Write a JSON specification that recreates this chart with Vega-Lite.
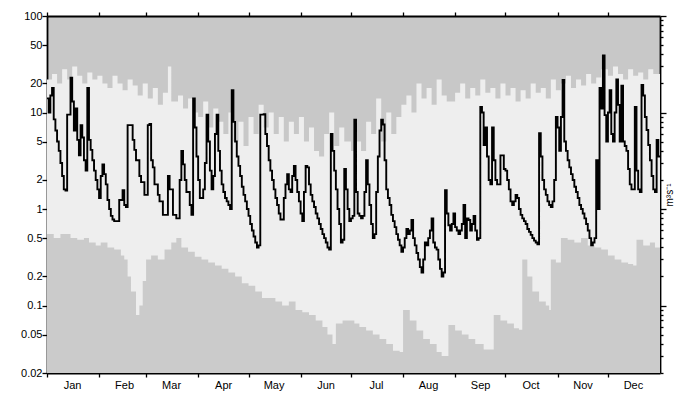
{
"$schema": "https://vega.github.io/schema/vega-lite/v6.json",
"width": 613, "height": 357,
"autosize": "none",
"padding": {"left": 47, "top": 16, "right": 28, "bottom": 21},
"background": "white",
"config": {
  "view": {"fill": "#c8c8c8", "stroke": null},
  "axis": {"labelFont": "Liberation Sans", "labelFontSize": 11, "labelColor": "black", "titleFont": "Liberation Sans", "titleColor": "black", "domainColor": "black", "domainWidth": 1.8, "tickColor": "black", "tickWidth": 1.3, "grid": false}
},
"datasets": {
"flow": [
{"day":0,"q":14},{"day":1,"q":10},{"day":2,"q":15},{"day":3,"q":18},{"day":4,"q":8.5},{"day":5,"q":6.5},{"day":6,"q":5},{"day":7,"q":4},{"day":8,"q":3},{"day":9,"q":2.2},{"day":10,"q":1.6},{"day":11,"q":1.55},{"day":12,"q":9.5},{"day":14,"q":23},{"day":15,"q":13},{"day":16,"q":6.5},{"day":17,"q":11},{"day":18,"q":5.2},{"day":19,"q":3.6},{"day":20,"q":7.4},{"day":21,"q":5.5},{"day":22,"q":3.2},{"day":23,"q":2.5},{"day":24,"q":18},{"day":25,"q":5.2},{"day":26,"q":4.1},{"day":27,"q":3.2},{"day":28,"q":2.5},{"day":29,"q":2.0},{"day":30,"q":1.6},{"day":31,"q":1.3},{"day":32,"q":2.2},{"day":33,"q":2.9},{"day":34,"q":2.3},{"day":35,"q":1.8},{"day":36,"q":1.24},{"day":37,"q":1.0},{"day":38,"q":0.85},{"day":39,"q":0.78},{"day":40,"q":0.75},{"day":42,"q":0.75},{"day":43,"q":1.24},{"day":45,"q":1.57},{"day":46,"q":1.1},{"day":47,"q":1.05},{"day":48,"q":7.4},{"day":50,"q":7.4},{"day":51,"q":5.2},{"day":52,"q":4.1},{"day":53,"q":3.2},{"day":55,"q":2.2},{"day":56,"q":1.9},{"day":58,"q":1.4},{"day":60,"q":7.4},{"day":61,"q":7.6},{"day":62,"q":3.2},{"day":63,"q":2.7},{"day":64,"q":1.8},{"day":66,"q":1.4},{"day":67,"q":1.2},{"day":69,"q":0.87},{"day":71,"q":0.87},{"day":72,"q":2.2},{"day":73,"q":1.6},{"day":75,"q":0.87},{"day":77,"q":0.8},{"day":79,"q":2.0},{"day":80,"q":4.0},{"day":81,"q":2.9},{"day":82,"q":2.0},{"day":83,"q":1.5},{"day":85,"q":1.1},{"day":86,"q":0.87},{"day":87,"q":14},{"day":88,"q":7},{"day":89,"q":3.5},{"day":90,"q":2.0},{"day":91,"q":1.3},{"day":93,"q":1.6},{"day":94,"q":3.0},{"day":95,"q":9.5},{"day":96,"q":5},{"day":97,"q":2.5},{"day":98,"q":1.6},{"day":99,"q":2.2},{"day":100,"q":6},{"day":101,"q":9.5},{"day":102,"q":4},{"day":103,"q":2.5},{"day":104,"q":1.8},{"day":105,"q":1.5},{"day":106,"q":1.3},{"day":107,"q":1.2},{"day":108,"q":1.1},{"day":109,"q":1.0},{"day":110,"q":17},{"day":111,"q":8},{"day":112,"q":5},{"day":113,"q":3.5},{"day":114,"q":2.8},{"day":115,"q":2.2},{"day":116,"q":1.7},{"day":117,"q":1.4},{"day":118,"q":1.2},{"day":119,"q":1.0},{"day":120,"q":0.85},{"day":121,"q":0.7},{"day":122,"q":0.6},{"day":123,"q":0.52},{"day":124,"q":0.45},{"day":125,"q":0.4},{"day":126,"q":0.42},{"day":127,"q":9.5},{"day":129,"q":9.6},{"day":130,"q":6},{"day":131,"q":4.5},{"day":132,"q":3.2},{"day":133,"q":2.5},{"day":134,"q":2.0},{"day":135,"q":1.6},{"day":136,"q":1.3},{"day":137,"q":1.1},{"day":138,"q":0.9},{"day":139,"q":0.78},{"day":140,"q":0.78},{"day":141,"q":1.3},{"day":142,"q":1.8},{"day":143,"q":2.3},{"day":144,"q":1.6},{"day":145,"q":1.5},{"day":146,"q":2.2},{"day":147,"q":2.8},{"day":148,"q":2.0},{"day":149,"q":1.5},{"day":150,"q":1.2},{"day":151,"q":0.9},{"day":152,"q":0.75},{"day":153,"q":1.5},{"day":154,"q":2.8},{"day":155,"q":2.7},{"day":156,"q":1.8},{"day":157,"q":1.4},{"day":158,"q":1.2},{"day":159,"q":1.05},{"day":160,"q":0.9},{"day":161,"q":0.8},{"day":162,"q":0.7},{"day":163,"q":0.62},{"day":164,"q":0.55},{"day":165,"q":0.5},{"day":166,"q":0.45},{"day":167,"q":0.4},{"day":168,"q":0.38},{"day":169,"q":6},{"day":170,"q":4},{"day":171,"q":2.5},{"day":172,"q":1.6},{"day":173,"q":1.0},{"day":174,"q":0.7},{"day":175,"q":0.45},{"day":176,"q":0.48},{"day":177,"q":2.6},{"day":178,"q":1.6},{"day":179,"q":1.0},{"day":180,"q":0.75},{"day":181,"q":0.8},{"day":182,"q":0.85},{"day":183,"q":8.4},{"day":184,"q":1.5},{"day":185,"q":0.9},{"day":186,"q":0.85},{"day":187,"q":0.8},{"day":188,"q":0.85},{"day":189,"q":1.5},{"day":190,"q":3.2},{"day":191,"q":1.8},{"day":192,"q":1.1},{"day":193,"q":0.7},{"day":194,"q":0.5},{"day":195,"q":0.55},{"day":196,"q":1.5},{"day":197,"q":3.5},{"day":198,"q":6.5},{"day":199,"q":8.4},{"day":200,"q":7.5},{"day":201,"q":3.2},{"day":202,"q":1.6},{"day":203,"q":1.3},{"day":204,"q":1.1},{"day":205,"q":0.87},{"day":206,"q":0.75},{"day":207,"q":0.65},{"day":208,"q":0.55},{"day":209,"q":0.48},{"day":210,"q":0.42},{"day":211,"q":0.36},{"day":212,"q":0.4},{"day":213,"q":0.5},{"day":214,"q":0.62},{"day":215,"q":0.55},{"day":216,"q":0.6},{"day":217,"q":0.77},{"day":218,"q":0.5},{"day":219,"q":0.42},{"day":220,"q":0.35},{"day":221,"q":0.3},{"day":222,"q":0.25},{"day":223,"q":0.22},{"day":224,"q":0.3},{"day":225,"q":0.45},{"day":226,"q":0.42},{"day":227,"q":0.5},{"day":228,"q":0.6},{"day":229,"q":0.8},{"day":230,"q":0.45},{"day":231,"q":0.4},{"day":232,"q":0.38},{"day":233,"q":0.3},{"day":234,"q":0.24},{"day":235,"q":0.2},{"day":236,"q":0.22},{"day":237,"q":1.57},{"day":238,"q":0.9},{"day":239,"q":0.68},{"day":240,"q":0.6},{"day":241,"q":0.7},{"day":242,"q":0.9},{"day":243,"q":0.65},{"day":244,"q":0.6},{"day":245,"q":0.55},{"day":246,"q":0.6},{"day":247,"q":0.7},{"day":248,"q":1.1},{"day":249,"q":0.5},{"day":250,"q":0.8},{"day":251,"q":0.77},{"day":252,"q":0.6},{"day":253,"q":0.7},{"day":254,"q":0.85},{"day":255,"q":0.6},{"day":256,"q":0.48},{"day":257,"q":0.5},{"day":258,"q":11.4},{"day":259,"q":10},{"day":260,"q":4.6},{"day":261,"q":7},{"day":262,"q":3.5},{"day":263,"q":2.0},{"day":264,"q":1.8},{"day":265,"q":7},{"day":266,"q":3.2},{"day":267,"q":2.0},{"day":268,"q":1.8},{"day":270,"q":3.6},{"day":272,"q":2.6},{"day":273,"q":2.5},{"day":274,"q":2.0},{"day":275,"q":1.6},{"day":276,"q":1.2},{"day":277,"q":1.1},{"day":278,"q":1.2},{"day":279,"q":1.4},{"day":280,"q":1.3},{"day":281,"q":1.0},{"day":282,"q":0.87},{"day":283,"q":0.8},{"day":284,"q":0.75},{"day":285,"q":0.7},{"day":286,"q":0.62},{"day":287,"q":0.58},{"day":288,"q":0.54},{"day":289,"q":0.5},{"day":290,"q":0.47},{"day":291,"q":0.45},{"day":292,"q":0.43},{"day":293,"q":6.1},{"day":294,"q":3.5},{"day":295,"q":2.0},{"day":296,"q":1.6},{"day":297,"q":1.4},{"day":298,"q":1.2},{"day":299,"q":1.1},{"day":300,"q":1.05},{"day":301,"q":1.2},{"day":302,"q":2.0},{"day":303,"q":9.0},{"day":304,"q":7},{"day":305,"q":4},{"day":306,"q":9},{"day":307,"q":21.7},{"day":308,"q":5},{"day":309,"q":4},{"day":310,"q":3.2},{"day":311,"q":2.7},{"day":312,"q":2.3},{"day":313,"q":2.0},{"day":314,"q":1.7},{"day":315,"q":1.5},{"day":316,"q":1.3},{"day":317,"q":1.1},{"day":318,"q":1.0},{"day":319,"q":0.9},{"day":320,"q":0.8},{"day":321,"q":0.7},{"day":322,"q":0.6},{"day":323,"q":0.5},{"day":324,"q":0.42},{"day":325,"q":0.45},{"day":326,"q":0.5},{"day":327,"q":3.2},{"day":328,"q":1.0},{"day":329,"q":18},{"day":330,"q":11},{"day":331,"q":39},{"day":332,"q":9.4},{"day":333,"q":5},{"day":334,"q":10},{"day":335,"q":17},{"day":336,"q":6},{"day":337,"q":5},{"day":338,"q":10},{"day":339,"q":22},{"day":340,"q":12},{"day":341,"q":5},{"day":342,"q":19},{"day":343,"q":5},{"day":344,"q":4.5},{"day":345,"q":4},{"day":346,"q":2.6},{"day":347,"q":1.8},{"day":348,"q":1.6},{"day":350,"q":11.4},{"day":351,"q":2.5},{"day":352,"q":1.6},{"day":353,"q":1.5},{"day":354,"q":19.3},{"day":355,"q":15},{"day":356,"q":9},{"day":357,"q":6.6},{"day":358,"q":4.6},{"day":359,"q":3.2},{"day":360,"q":2.2},{"day":361,"q":1.6},{"day":362,"q":1.5},{"day":363,"q":5.2},{"day":364,"q":3.5},{"day":365,"q":3.5}
],
"upper": [
{"day":0,"q":22},{"day":3,"q":25},{"day":6,"q":20},{"day":9,"q":28},{"day":12,"q":22},{"day":15,"q":30},{"day":18,"q":24},{"day":21,"q":20},{"day":24,"q":26},{"day":27,"q":22},{"day":30,"q":24},{"day":33,"q":20},{"day":36,"q":18},{"day":39,"q":24},{"day":42,"q":20},{"day":45,"q":17},{"day":48,"q":22},{"day":51,"q":19},{"day":54,"q":15},{"day":57,"q":20},{"day":60,"q":14},{"day":63,"q":18},{"day":66,"q":12},{"day":69,"q":16},{"day":72,"q":30},{"day":74,"q":13},{"day":78,"q":15},{"day":81,"q":11},{"day":84,"q":14},{"day":87,"q":10},{"day":90,"q":9},{"day":93,"q":13},{"day":96,"q":7},{"day":99,"q":11},{"day":102,"q":8},{"day":105,"q":6},{"day":108,"q":10},{"day":111,"q":5},{"day":114,"q":8},{"day":117,"q":4.5},{"day":120,"q":9},{"day":123,"q":6},{"day":126,"q":12},{"day":129,"q":7},{"day":132,"q":10},{"day":135,"q":6},{"day":138,"q":9},{"day":141,"q":5},{"day":144,"q":8},{"day":147,"q":6},{"day":150,"q":9},{"day":153,"q":5},{"day":156,"q":7},{"day":159,"q":4},{"day":162,"q":3.5},{"day":165,"q":6},{"day":168,"q":10},{"day":171,"q":4.5},{"day":174,"q":7},{"day":177,"q":5},{"day":181,"q":4},{"day":184,"q":5},{"day":187,"q":4},{"day":190,"q":8},{"day":193,"q":6},{"day":196,"q":14},{"day":199,"q":5},{"day":202,"q":10},{"day":205,"q":6},{"day":208,"q":9},{"day":211,"q":12},{"day":214,"q":15},{"day":217,"q":10},{"day":220,"q":20},{"day":223,"q":14},{"day":226,"q":18},{"day":229,"q":12},{"day":232,"q":22},{"day":235,"q":15},{"day":238,"q":13},{"day":243,"q":16},{"day":246,"q":20},{"day":249,"q":14},{"day":252,"q":18},{"day":255,"q":15},{"day":258,"q":22},{"day":261,"q":16},{"day":264,"q":18},{"day":267,"q":14},{"day":270,"q":20},{"day":273,"q":15},{"day":276,"q":18},{"day":279,"q":13},{"day":282,"q":17},{"day":285,"q":14},{"day":288,"q":20},{"day":291,"q":16},{"day":294,"q":18},{"day":297,"q":14},{"day":300,"q":22},{"day":303,"q":17},{"day":306,"q":20},{"day":309,"q":24},{"day":312,"q":18},{"day":315,"q":22},{"day":318,"q":19},{"day":321,"q":25},{"day":324,"q":20},{"day":327,"q":23},{"day":330,"q":28},{"day":334,"q":24},{"day":337,"q":30},{"day":340,"q":25},{"day":343,"q":22},{"day":346,"q":28},{"day":349,"q":24},{"day":352,"q":26},{"day":355,"q":22},{"day":358,"q":28},{"day":361,"q":25},{"day":365,"q":24}
],
"lower": [
{"day":0,"q":0.55},{"day":4,"q":0.5},{"day":8,"q":0.55},{"day":11,"q":0.55},{"day":14,"q":0.5},{"day":18,"q":0.48},{"day":22,"q":0.5},{"day":25,"q":0.45},{"day":29,"q":0.42},{"day":32,"q":0.45},{"day":36,"q":0.4},{"day":40,"q":0.38},{"day":44,"q":0.33},{"day":46,"q":0.3},{"day":48,"q":0.2},{"day":50,"q":0.14},{"day":53,"q":0.08},{"day":55,"q":0.1},{"day":57,"q":0.18},{"day":59,"q":0.3},{"day":62,"q":0.33},{"day":66,"q":0.3},{"day":70,"q":0.38},{"day":74,"q":0.45},{"day":77,"q":0.5},{"day":80,"q":0.4},{"day":84,"q":0.36},{"day":88,"q":0.32},{"day":92,"q":0.3},{"day":96,"q":0.28},{"day":100,"q":0.26},{"day":104,"q":0.24},{"day":108,"q":0.22},{"day":112,"q":0.2},{"day":116,"q":0.17},{"day":120,"q":0.16},{"day":124,"q":0.14},{"day":128,"q":0.12},{"day":132,"q":0.12},{"day":136,"q":0.11},{"day":140,"q":0.1},{"day":144,"q":0.11},{"day":148,"q":0.09},{"day":152,"q":0.085},{"day":156,"q":0.08},{"day":160,"q":0.07},{"day":164,"q":0.06},{"day":167,"q":0.05},{"day":170,"q":0.04},{"day":172,"q":0.065},{"day":176,"q":0.07},{"day":180,"q":0.07},{"day":183,"q":0.065},{"day":186,"q":0.06},{"day":190,"q":0.055},{"day":194,"q":0.05},{"day":198,"q":0.045},{"day":202,"q":0.04},{"day":206,"q":0.034},{"day":210,"q":0.033},{"day":212,"q":0.09},{"day":216,"q":0.07},{"day":220,"q":0.055},{"day":224,"q":0.045},{"day":228,"q":0.04},{"day":232,"q":0.033},{"day":235,"q":0.03},{"day":239,"q":0.063},{"day":243,"q":0.055},{"day":247,"q":0.05},{"day":251,"q":0.045},{"day":255,"q":0.04},{"day":260,"q":0.035},{"day":264,"q":0.035},{"day":266,"q":0.08},{"day":270,"q":0.07},{"day":274,"q":0.065},{"day":278,"q":0.058},{"day":281,"q":0.056},{"day":283,"q":0.3},{"day":286,"q":0.2},{"day":289,"q":0.14},{"day":293,"q":0.11},{"day":297,"q":0.1},{"day":299,"q":0.09},{"day":300,"q":0.3},{"day":303,"q":0.28},{"day":306,"q":0.5},{"day":310,"q":0.48},{"day":314,"q":0.45},{"day":318,"q":0.5},{"day":322,"q":0.42},{"day":326,"q":0.4},{"day":330,"q":0.38},{"day":334,"q":0.33},{"day":338,"q":0.3},{"day":342,"q":0.28},{"day":346,"q":0.27},{"day":349,"q":0.26},{"day":351,"q":0.48},{"day":355,"q":0.42},{"day":359,"q":0.45},{"day":362,"q":0.4},{"day":365,"q":0.4}
]
},
"resolve": {"axis": {"x": "independent", "y": "independent"}},
"layer": [
{
  "data": {"name": "upper"},
  "mark": {"type": "area", "interpolate": "step-after", "color": "#eeeeee", "clip": true},
  "encoding": {
    "x": {"field": "day", "type": "quantitative", "scale": {"domain": [0, 365], "nice": false, "zero": false},
      "axis": {"orient": "bottom", "values": [0,31,59,90,120,151,181,212,243,273,304,334], "labelExpr": "['Jan','Feb','Mar','Apr','May','Jun','Jul','Aug','Sep','Oct','Nov','Dec'][indexof([0,31,59,90,120,151,181,212,243,273,304,334], datum.value)]", "labelOffset": 25, "labelAlign": "center", "labelPadding": 2, "tickSize": 4, "title": null, "labelFlush": false, "labelOverlap": false}},
    "y": {"field": "q", "type": "quantitative", "scale": {"type": "log", "domain": [0.02, 100], "nice": false},
      "axis": {"orient": "left", "values": [0.02,0.05,0.1,0.2,0.5,1,2,5,10,20,50,100], "format": "~g", "tickSize": 5, "labelPadding": 0, "title": null, "labelOverlap": false, "labelFlush": false}},
    "y2": {"datum": 0.02}
  }
},
{
  "data": {"name": "lower"},
  "mark": {"type": "area", "interpolate": "step-after", "color": "#cbcbcb", "clip": true},
  "encoding": {
    "x": {"field": "day", "type": "quantitative", "axis": null},
    "y": {"field": "q", "type": "quantitative", "axis": null},
    "y2": {"datum": 0.02}
  }
},
{
  "data": {"name": "flow"},
  "mark": {"type": "line", "interpolate": "step-after", "color": "black", "strokeWidth": 1.9, "clip": true},
  "encoding": {
    "x": {"field": "day", "type": "quantitative",
      "axis": {"orient": "top", "values": [0,31,59,90,120,151,181,212,243,273,304,334], "labels": false, "tickSize": 4, "title": null}},
    "y": {"field": "q", "type": "quantitative",
      "axis": {"orient": "right", "values": [0.02,0.03,0.04,0.05,0.06,0.07,0.08,0.09,0.1,0.2,0.3,0.4,0.5,0.6,0.7,0.8,0.9,1,2,3,4,5,6,7,8,9,10,20,30,40,50,60,70,80,90,100], "labels": false, "tickSize": {"condition": {"test": "indexof([0.1,1,10,100], datum.value) >= 0", "value": 6}, "value": 3}, "title": "m³s⁻¹", "titleAngle": 270, "titleFontSize": 10, "titleFontWeight": "normal", "titlePadding": 8}}
  }
}
]
}
